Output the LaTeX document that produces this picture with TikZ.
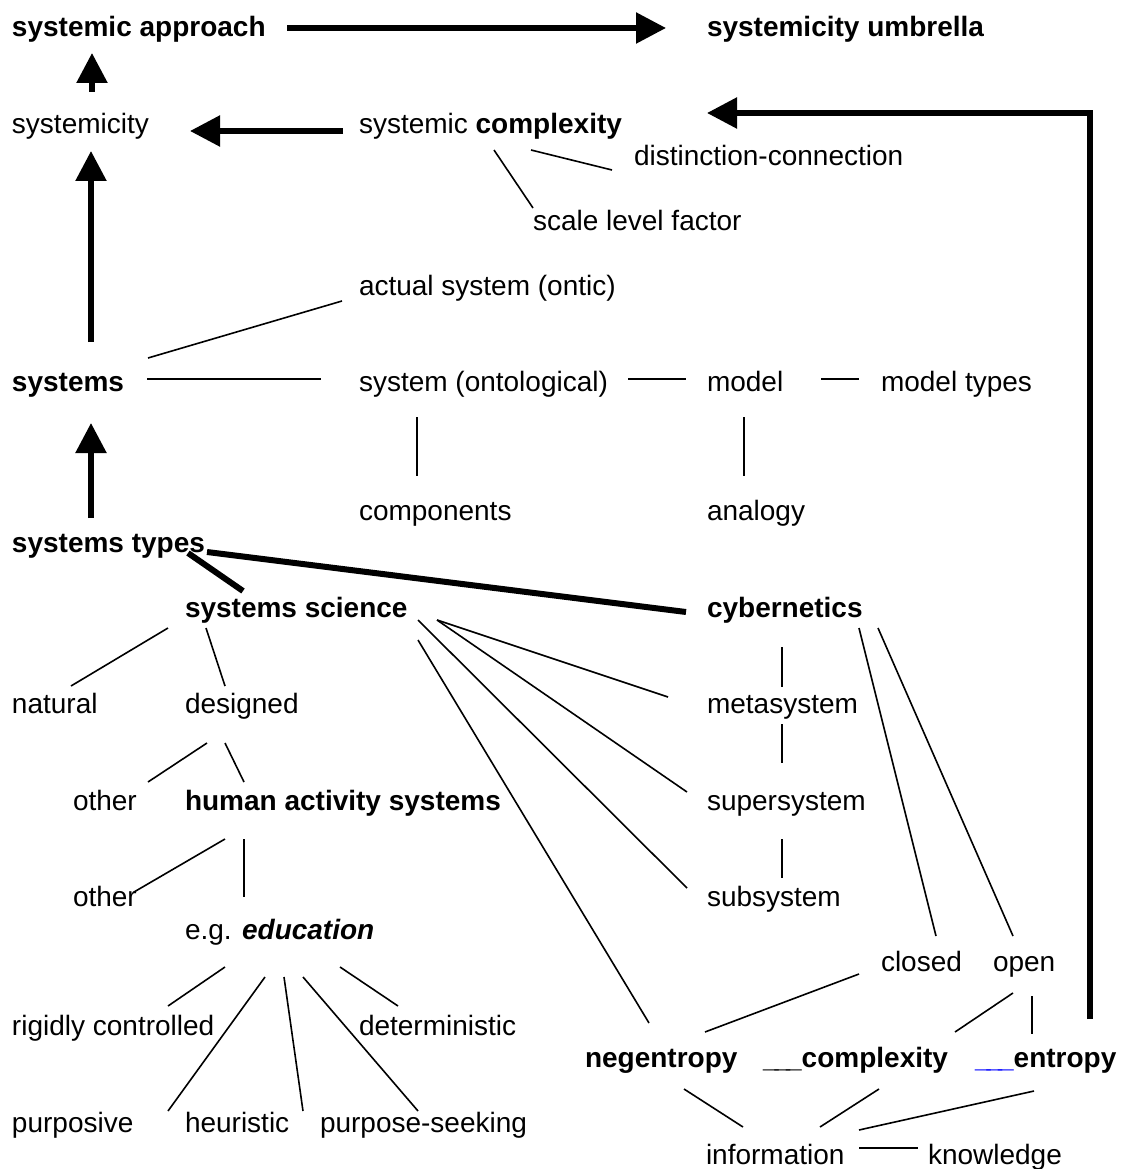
\documentclass[tikz,border=0pt]{standalone}
\usepackage{fontspec}
\setmainfont{Liberation Sans}
\usetikzlibrary{arrows.meta}
\begin{document}
\begin{tikzpicture}[x=1pt,y=-1pt,
  lbl/.style={inner sep=0pt,outer sep=0pt,anchor=base west,
    font=\fontsize{28}{33}\selectfont},
  thinline/.style={line width=1.6pt},
  heavyline/.style={line width=6pt},
  heavyarrow/.style={line width=5.5pt,-{Triangle[length=30pt,width=30pt]}}]
\useasboundingbox (0,0) rectangle (1125,1169);

% concepts
\node[lbl] (appr) at (12,37)  {\textbf{systemic approach}};
\node[lbl] (umb)  at (707,37) {\textbf{systemicity umbrella}};
\node[lbl] (syst) at (12,134) {systemicity};
\node[lbl] (scx)  at (359,134) {systemic \textbf{complexity}};
\node[lbl] (dc)   at (634,166) {distinction-connection};
\node[lbl] (slf)  at (533,230) {scale level factor};
\node[lbl] (act)  at (359,295) {actual system (ontic)};
\node[lbl] (sys)  at (12,391) {\textbf{systems}};
\node[lbl] (ont)  at (359,391) {system (ontological)};
\node[lbl] (mod)  at (707,391) {model};
\node[lbl] (mt)   at (881,391) {model types};
\node[lbl] (comp) at (359,520) {components};
\node[lbl] (ana)  at (707,520) {analogy};
\node[lbl] (typ)  at (12,552) {\textbf{systems types}};
\node[lbl] (ss)   at (185,617) {\textbf{systems science}};
\node[lbl] (cyb)  at (707,617) {\textbf{cybernetics}};
\node[lbl] (nat)  at (12,713) {natural};
\node[lbl] (des)  at (185,713) {designed};
\node[lbl] (meta) at (707,713) {metasystem};
\node[lbl] (oth1) at (73,810) {other};
\node[lbl] (has)  at (185,810) {\textbf{human activity systems}};
\node[lbl] (sup)  at (707,810) {supersystem};
\node[lbl] (oth2) at (73,906) {other};
\node[lbl] (sub)  at (707,906) {subsystem};
\node[lbl] (edu)  at (185,939) {e.g. \textbf{\textit{education}}};
\node[lbl] (clo)  at (881,971) {closed};
\node[lbl] (ope)  at (993,971) {open};
\node[lbl] (rig)  at (12,1035) {rigidly controlled};
\node[lbl] (det)  at (359,1035) {deterministic};
\node[lbl] (neg)  at (585,1067) {\textbf{negentropy}};
\node[lbl] (cpx)  at (763,1067) {\textbf{\_\kern-4pt\_\kern-4pt\_complexity}};
\node[lbl] (ent)  at (975,1067) {\textbf{{\color{blue}\_\kern-4pt\_\kern-4pt\_}entropy}};
\node[lbl] (pur)  at (12,1132) {purposive};
\node[lbl] (heu)  at (185,1132) {heuristic};
\node[lbl] (ps)   at (320,1132) {purpose-seeking};
\node[lbl] (info) at (706,1164) {information};
\node[lbl] (know) at (928,1164) {knowledge};

% heavy arrows
\draw[heavyarrow] ([shift={(275,-9)}]appr.base west) -- ([shift={(-41,-9)}]umb.base west);
\draw[heavyarrow] ([shift={(80,-42)}]syst.base west) -- ([shift={(80,16)}]appr.base west);
\draw[heavyarrow] ([shift={(-16,-3)}]scx.base west) -- ([shift={(178,-3)}]syst.base west);
\draw[heavyarrow,line join=miter] ([shift={(115,-48)}]ent.base west) |- ([shift={(348,-21)}]scx.base west);
\draw[heavyarrow] ([shift={(79,-49)}]sys.base west) -- ([shift={(79,17)}]syst.base west);
\draw[heavyarrow] ([shift={(79,-34)}]typ.base west) -- ([shift={(79,32)}]sys.base west);

% heavy links
\draw[heavyline] ([shift={(176,1)}]typ.base west) -- ([shift={(58,-26)}]ss.base west);
\draw[heavyline] ([shift={(195,0)}]typ.base west) -- ([shift={(-21,-5)}]cyb.base west);

% thin links
\draw[thinline] ([shift={(172,16)}]scx.base west) -- ([shift={(-22,4)}]dc.base west);
\draw[thinline] ([shift={(135,16)}]scx.base west) -- ([shift={(0,-22)}]slf.base west);
\draw[thinline] ([shift={(-17,6)}]act.base west) -- ([shift={(136,-33)}]sys.base west);
\draw[thinline] ([shift={(135,-12)}]sys.base west) -- ([shift={(-38,-12)}]ont.base west);
\draw[thinline] ([shift={(269,-12)}]ont.base west) -- ([shift={(-21,-12)}]mod.base west);
\draw[thinline] ([shift={(114,-12)}]mod.base west) -- ([shift={(-22,-12)}]mt.base west);
\draw[thinline] ([shift={(58,26)}]ont.base west) -- ([shift={(58,-44)}]comp.base west);
\draw[thinline] ([shift={(37,26)}]mod.base west) -- ([shift={(37,-44)}]ana.base west);

\draw[thinline] ([shift={(-17,11)}]ss.base west) -- ([shift={(59,-27)}]nat.base west);
\draw[thinline] ([shift={(21,11)}]ss.base west) -- ([shift={(40,-27)}]des.base west);
\draw[thinline] ([shift={(252,3)}]ss.base west) -- ([shift={(-39,-16)}]meta.base west);
\draw[thinline] ([shift={(252,3)}]ss.base west) -- ([shift={(-20,-18)}]sup.base west);
\draw[thinline] ([shift={(233,3)}]ss.base west) -- ([shift={(-20,-18)}]sub.base west);
\draw[thinline] ([shift={(233,23)}]ss.base west) -- ([shift={(64,-44)}]neg.base west);

\draw[thinline] ([shift={(75,30)}]cyb.base west) -- ([shift={(75,-26)}]meta.base west);
\draw[thinline] ([shift={(75,11)}]meta.base west) -- ([shift={(75,-47)}]sup.base west);
\draw[thinline] ([shift={(75,29)}]sup.base west) -- ([shift={(75,-28)}]sub.base west);
\draw[thinline] ([shift={(152,11)}]cyb.base west) -- ([shift={(55,-35)}]clo.base west);
\draw[thinline] ([shift={(171,11)}]cyb.base west) -- ([shift={(20,-35)}]ope.base west);

\draw[thinline] ([shift={(-22,3)}]clo.base west) -- ([shift={(120,-35)}]neg.base west);
\draw[thinline] ([shift={(20,22)}]ope.base west) -- ([shift={(192,-35)}]cpx.base west);
\draw[thinline] ([shift={(39,25)}]ope.base west) -- ([shift={(57,-33)}]ent.base west);
\draw[thinline] ([shift={(99,22)}]neg.base west) -- ([shift={(37,-37)}]info.base west);
\draw[thinline] ([shift={(116,22)}]cpx.base west) -- ([shift={(114,-37)}]info.base west);
\draw[thinline] ([shift={(59,24)}]ent.base west) -- ([shift={(153,-34)}]info.base west);
\draw[thinline] ([shift={(153,-16)}]info.base west) -- ([shift={(-10,-16)}]know.base west);

\draw[thinline] ([shift={(22,30)}]des.base west) -- ([shift={(75,-28)}]oth1.base west);
\draw[thinline] ([shift={(40,30)}]des.base west) -- ([shift={(59,-28)}]has.base west);
\draw[thinline] ([shift={(40,29)}]has.base west) -- ([shift={(61,-14)}]oth2.base west);
\draw[thinline] ([shift={(59,29)}]has.base west) -- ([shift={(59,-42)}]edu.base west);
\draw[thinline] ([shift={(40,28)}]edu.base west) -- ([shift={(156,-29)}]rig.base west);
\draw[thinline] ([shift={(80,38)}]edu.base west) -- ([shift={(156,-21)}]pur.base west);
\draw[thinline] ([shift={(99,38)}]edu.base west) -- ([shift={(118,-21)}]heu.base west);
\draw[thinline] ([shift={(118,38)}]edu.base west) -- ([shift={(98,-21)}]ps.base west);
\draw[thinline] ([shift={(155,28)}]edu.base west) -- ([shift={(39,-29)}]det.base west);
\end{tikzpicture}
\end{document}
